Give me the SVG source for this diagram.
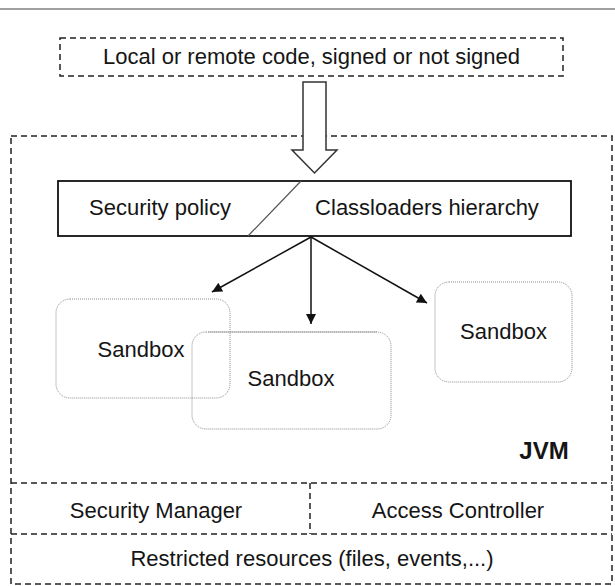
<svg xmlns="http://www.w3.org/2000/svg" width="615" height="586" viewBox="0 0 615 586">
<style>
text{font-family:"Liberation Sans",Arial,sans-serif;font-size:22px;fill:#151515}
.mid{text-anchor:middle}
.dash{fill:none;stroke:#222;stroke-width:1.5;stroke-dasharray:6 4}
.sand{fill:none;stroke:#8a8a8a;stroke-width:1;stroke-dasharray:1 1}
.conn{stroke:#111;stroke-width:1.5;fill:none}
</style>
<defs>
<marker id="ah" viewBox="0 0 10 10" refX="10" refY="5" markerWidth="12" markerHeight="10" markerUnits="userSpaceOnUse" orient="auto">
<path d="M0,0 L10,5 L0,10 z" fill="#111"/>
</marker>
</defs>
<rect width="615" height="586" fill="#fff"/>
<line x1="0" y1="9" x2="615" y2="9" stroke="#808080" stroke-width="1.5"/>

<g id="jvm">
<rect class="dash" x="11" y="136" width="601" height="448"/>
<text x="544" y="459" class="mid" style="font-weight:bold;font-size:24px">JVM</text>
</g>

<g id="source">
<rect class="dash" x="60" y="38" width="503" height="38"/>
<text x="311.5" y="64" class="mid">Local or remote code, signed or not signed</text>
</g>

<g id="load-arrow">
<polygon points="303,82 326,82 326,150 337,150 314.5,173 292,150 303,150" fill="#fff" stroke="#333" stroke-width="1.5"/>
</g>

<g id="policy-bar">
<rect x="58" y="181" width="513" height="55" fill="#fff" stroke="#111" stroke-width="1.8"/>
<line x1="301" y1="181" x2="248" y2="236" stroke="#555" stroke-width="1.2"/>
<text x="160" y="215" class="mid">Security policy</text>
<text x="427" y="215" class="mid">Classloaders hierarchy</text>
</g>

<g id="sandbox1">
<rect class="sand" x="56" y="299" width="174" height="99" rx="14"/>
<text x="141" y="357" class="mid">Sandbox</text>
</g>
<g id="sandbox2">
<rect class="sand" x="192" y="332" width="199" height="97" rx="14"/>
<line x1="208" y1="332" x2="377" y2="332" stroke="#aaa" stroke-width="1"/>
<text x="291" y="386" class="mid">Sandbox</text>
</g>
<g id="sandbox3">
<rect class="sand" x="435" y="282" width="137" height="100" rx="14"/>
<text x="503.5" y="339" class="mid">Sandbox</text>
</g>

<g id="connectors">
<line class="conn" x1="311" y1="237" x2="212" y2="292" marker-end="url(#ah)"/>
<line class="conn" x1="311" y1="237" x2="311" y2="324" marker-end="url(#ah)"/>
<line class="conn" x1="311" y1="237" x2="427" y2="303" marker-end="url(#ah)"/>
</g>

<g id="security-manager">
<line class="dash" x1="11" y1="483" x2="612" y2="483"/>
<line class="dash" x1="310" y1="483" x2="310" y2="534"/>
<text x="156" y="518" class="mid">Security Manager</text>
</g>
<g id="access-controller">
<text x="458" y="518" class="mid">Access Controller</text>
</g>
<g id="resources">
<line class="dash" x1="11" y1="534" x2="612" y2="534"/>
<text x="312" y="566" class="mid">Restricted resources (files, events,...)</text>
</g>
</svg>
